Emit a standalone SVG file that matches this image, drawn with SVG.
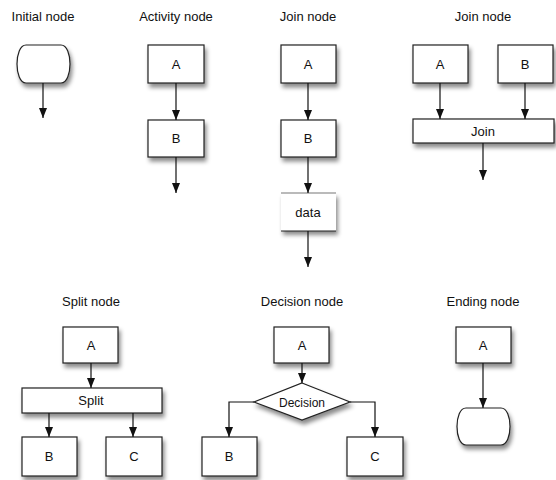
<svg xmlns="http://www.w3.org/2000/svg" width="556" height="480" viewBox="0 0 556 480">
  <defs>
    <filter id="shadow" x="-20%" y="-20%" width="150%" height="170%">
      <feDropShadow dx="2" dy="4" stdDeviation="2" flood-color="#000" flood-opacity="0.45"/>
    </filter>
    <marker id="arrow" markerUnits="userSpaceOnUse" markerWidth="10" markerHeight="8" refX="10" refY="4" orient="auto">
      <path d="M0,0 L10,4 L0,8 Z" fill="#111"/>
    </marker>
  </defs>
  <style>
    text { font-family: "Liberation Sans", Arial, Helvetica, sans-serif; font-size: 13px; fill: #111; text-anchor: middle; }
    .box { fill: #fff; stroke: #222; stroke-width: 1.2; filter: url(#shadow); }
    .edge { fill: none; stroke: #111; stroke-width: 1.2; marker-end: url(#arrow); }
  </style>

  <!-- section titles -->
  <g id="titles">
    <text x="43" y="21">Initial node</text>
    <text x="176" y="21">Activity node</text>
    <text x="308" y="21">Join node</text>
    <text x="483" y="21">Join node</text>
    <text x="91" y="306">Split node</text>
    <text x="302" y="306">Decision node</text>
    <text x="483" y="306">Ending node</text>
  </g>

  <!-- initial node -->
  <g id="initial">
    <path class="box" d="M26,45 H61 C73,45 73,83 61,83 H26 C14,83 14,45 26,45 Z"/>
  </g>

  <!-- activity nodes -->
  <g id="act-a"><rect class="box" x="148" y="45" width="56" height="38"/><text x="176" y="69">A</text></g>
  <g id="act-b"><rect class="box" x="148" y="120" width="56" height="37"/><text x="176" y="143">B</text></g>

  <!-- join with data -->
  <g id="jd-a"><rect class="box" x="281" y="45" width="55" height="38"/><text x="308" y="69">A</text></g>
  <g id="jd-b"><rect class="box" x="281" y="120" width="55" height="37"/><text x="308" y="143">B</text></g>
  <g id="jd-data">
    <rect x="281" y="193" width="55" height="38" fill="#fff" filter="url(#shadow)"/>
    <line x1="281" y1="193" x2="336" y2="193" stroke="#777" stroke-width="1"/>
    <line x1="281" y1="231" x2="336" y2="231" stroke="#222" stroke-width="1.2"/>
    <text x="308" y="217">data</text>
  </g>

  <!-- join bar -->
  <g id="j-a"><rect class="box" x="413" y="45" width="55" height="38"/><text x="440" y="69">A</text></g>
  <g id="j-b"><rect class="box" x="498" y="45" width="55" height="38"/><text x="525" y="69">B</text></g>
  <g id="j-bar"><rect class="box" x="413" y="119" width="141" height="24"/><text x="483" y="136">Join</text></g>

  <!-- split -->
  <g id="s-a"><rect class="box" x="63" y="327" width="55" height="36"/><text x="91" y="350">A</text></g>
  <g id="s-bar"><rect class="box" x="22" y="388" width="140" height="25"/><text x="91" y="405">Split</text></g>
  <g id="s-b"><rect class="box" x="22" y="437" width="55" height="39"/><text x="49" y="461">B</text></g>
  <g id="s-c"><rect class="box" x="106" y="437" width="56" height="39"/><text x="134" y="461">C</text></g>

  <!-- decision -->
  <g id="d-a"><rect class="box" x="274" y="327" width="55" height="36"/><text x="302" y="350">A</text></g>
  <g id="d-dec"><polygon class="box" points="302,383 350,402 302,420 254,402"/><text x="302" y="406.5" style="font-size:12px">Decision</text></g>
  <g id="d-b"><rect class="box" x="202" y="437" width="55" height="39"/><text x="229" y="461">B</text></g>
  <g id="d-c"><rect class="box" x="347" y="437" width="56" height="39"/><text x="375" y="461">C</text></g>

  <!-- ending -->
  <g id="e-a"><rect class="box" x="456" y="327" width="55" height="36"/><text x="483" y="350">A</text></g>
  <g id="e-end">
    <path class="box" d="M466,408 H501 C513,408 513,445 501,445 H466 C454,445 454,408 466,408 Z"/>
  </g>

  <!-- connectors -->
  <g id="connectors">
    <line class="edge" x1="43" y1="83" x2="43" y2="118"/>
    <line class="edge" x1="176" y1="83" x2="176" y2="120"/>
    <line class="edge" x1="176" y1="157" x2="176" y2="193"/>
    <line class="edge" x1="308" y1="83" x2="308" y2="120"/>
    <line class="edge" x1="308" y1="157" x2="308" y2="193"/>
    <line class="edge" x1="308" y1="231" x2="308" y2="267"/>
    <line class="edge" x1="440" y1="83" x2="440" y2="119"/>
    <line class="edge" x1="525" y1="83" x2="525" y2="119"/>
    <line class="edge" x1="483" y1="143" x2="483" y2="180"/>
    <line class="edge" x1="91" y1="363" x2="91" y2="388"/>
    <line class="edge" x1="49" y1="413" x2="49" y2="437"/>
    <line class="edge" x1="133" y1="413" x2="133" y2="437"/>
    <line class="edge" x1="302" y1="363" x2="302" y2="383"/>
    <path class="edge" d="M254,402 H229 V437"/>
    <path class="edge" d="M350,402 H375 V437"/>
    <line class="edge" x1="483" y1="363" x2="483" y2="408"/>
  </g>
</svg>
